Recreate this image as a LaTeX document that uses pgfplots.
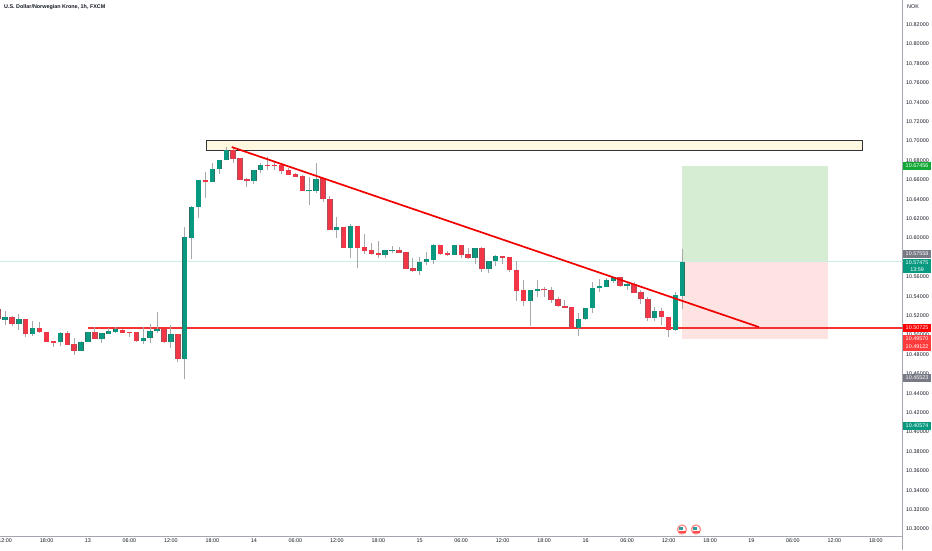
\documentclass[border=0pt]{standalone}
\usepackage{fontspec}
\setmainfont{Liberation Sans}
\usepackage{pgfplots}
\usepackage{pgfplotstable}
\pgfplotsset{compat=1.18}
\definecolor{upc}{HTML}{089981}
\definecolor{upe}{HTML}{2F6F63}
\definecolor{dnc}{HTML}{F23645}
\definecolor{dne}{HTML}{A8505A}
\definecolor{wick}{HTML}{A6A8AC}
\definecolor{axc}{HTML}{A3A6AF}
\definecolor{txt}{HTML}{131722}
\definecolor{gray1}{HTML}{787B86}
\definecolor{tagg}{HTML}{12A836}
\definecolor{tagr}{HTML}{FF3B3B}
\pgfplotstableread{
t o h l c
-12 10.5158 10.5251 10.5107 10.5175
-10 10.5113 10.5213 10.5052 10.5155
-8 10.5010 10.5148 10.4990 10.5065
-4 10.4924 10.5031 10.4890 10.5017
-1 10.4839 10.4938 10.4839 10.4924
0 10.4928 10.5028 10.4928 10.5021
2 10.4959 10.5024 10.4921 10.5010
3 10.5014 10.5076 10.5014 10.5034
4 10.5034 10.5079 10.5024 10.5052
8 10.4938 10.5086 10.4911 10.4966
9 10.4966 10.5110 10.4918 10.5038
10 10.5038 10.5234 10.5017 10.5058
12 10.4924 10.5100 10.4863 10.5003
14 10.4753 10.6117 10.4550 10.6003
15 10.6003 10.6326 10.5780 10.6319
16 10.6319 10.6598 10.6206 10.6591
18 10.6580 10.6769 10.6580 10.6708
19 10.6708 10.6800 10.6659 10.6800
20 10.6800 10.6934 10.6800 10.6900
24 10.6587 10.6697 10.6556 10.6697
25 10.6697 10.6769 10.6666 10.6752
32 10.6484 10.6625 10.6343 10.6488
33 10.6484 10.6776 10.6460 10.6604
36 10.6079 10.6213 10.6003 10.6110
38 10.5900 10.6147 10.5797 10.6113
43 10.5822 10.5870 10.5794 10.5870
44 10.5866 10.5918 10.5842 10.5870
48 10.5660 10.5801 10.5622 10.5749
49 10.5749 10.5852 10.5718 10.5777
50 10.5777 10.5935 10.5732 10.5918
53 10.5825 10.5918 10.5825 10.5918
56 10.5797 10.5901 10.5732 10.5894
58 10.5684 10.5767 10.5636 10.5760
59 10.5760 10.5825 10.5711 10.5808
64 10.5354 10.5457 10.5097 10.5457
65 10.5457 10.5567 10.5396 10.5471
71 10.5075 10.5223 10.4993 10.5161
72 10.5161 10.5275 10.5154 10.5275
73 10.5275 10.5550 10.5230 10.5481
74 10.5481 10.5577 10.5446 10.5495
75 10.5495 10.5584 10.5495 10.5560
76 10.5560 10.5601 10.5532 10.5591
78 10.5505 10.5550 10.5463 10.5515
82 10.5178 10.5292 10.5144 10.5240
85 10.5051 10.5446 10.5041 10.5402
86 10.5405 10.5883 10.5264 10.5748
}\upbars
\pgfplotstableread{
t o h l c
-13 10.5258 10.5290 10.5165 10.5165
-11 10.5175 10.5196 10.5096 10.5113
-9 10.5155 10.5155 10.4976 10.5010
-7 10.5065 10.5131 10.5017 10.5028
-6 10.5028 10.5028 10.4931 10.4931
-5 10.4935 10.4935 10.4880 10.4921
-3 10.5017 10.5038 10.4897 10.4900
-2 10.4900 10.4966 10.4797 10.4835
1 10.5021 10.5086 10.4959 10.4959
5 10.5048 10.5065 10.5017 10.5021
6 10.5028 10.5028 10.4976 10.5021
7 10.5024 10.5031 10.4931 10.4938
11 10.5058 10.5065 10.4914 10.4924
13 10.5000 10.5000 10.4725 10.4753
17 10.6594 10.6683 10.6409 10.6580
21 10.6900 10.6941 10.6769 10.6817
22 10.6814 10.6814 10.6601 10.6601
23 10.6601 10.6622 10.6529 10.6587
26 10.6752 10.6831 10.6701 10.6745
27 10.6752 10.6786 10.6701 10.6745
28 10.6745 10.6769 10.6659 10.6694
29 10.6694 10.6718 10.6646 10.6653
30 10.6653 10.6666 10.6625 10.6632
31 10.6632 10.6649 10.6484 10.6484
34 10.6608 10.6615 10.6374 10.6398
35 10.6398 10.6433 10.6079 10.6079
37 10.6110 10.6110 10.5900 10.5900
39 10.6113 10.6123 10.5694 10.5900
40 10.5904 10.6041 10.5835 10.5869
41 10.5866 10.5945 10.5825 10.5835
42 10.5835 10.5973 10.5791 10.5822
45 10.5870 10.5911 10.5842 10.5846
46 10.5849 10.5849 10.5677 10.5684
47 10.5684 10.5791 10.5646 10.5660
51 10.5918 10.5928 10.5825 10.5835
52 10.5835 10.5870 10.5818 10.5825
54 10.5918 10.5918 10.5791 10.5825
55 10.5825 10.5894 10.5787 10.5797
57 10.5894 10.5904 10.5653 10.5684
60 10.5808 10.5818 10.5732 10.5794
61 10.5797 10.5797 10.5653 10.5667
62 10.5667 10.5760 10.5354 10.5454
63 10.5454 10.5567 10.5303 10.5354
66 10.5470 10.5498 10.5388 10.5460
67 10.5460 10.5491 10.5326 10.5361
68 10.5361 10.5388 10.5292 10.5295
69 10.5295 10.5361 10.5281 10.5281
70 10.5288 10.5288 10.5075 10.5075
77 10.5591 10.5601 10.5498 10.5505
79 10.5522 10.5550 10.5429 10.5433
80 10.5436 10.5463 10.5316 10.5367
81 10.5367 10.5388 10.5144 10.5178
83 10.5240 10.5275 10.5103 10.5182
84 10.5182 10.5182 10.4983 10.5051
}\dnbars
\newcommand{\sz}{\fontsize{5.4}{6.2}\selectfont}
\newcommand{\pricetag}[4]{% py top, py bottom, colour, text
  \fill[#3] (903,550-#1) rectangle (931,550-#2);
  \node[anchor=center,align=center,text=white,inner sep=0pt,font=\sz] at (917,550-#1/2-#2/2) {#4};}
\begin{document}
\begin{tikzpicture}[x=1pt,y=1pt]
\path[use as bounding box] (0,0) rectangle (932,550);
\begin{axis}[
  at={(0pt,14pt)}, anchor=south west,
  scale only axis, width=902.5pt, height=536pt,
  xmin=-12.73, xmax=117.85, ymin=10.2928, ymax=10.8454,
  axis x line*=bottom, axis y line*=right,
  axis line style={axc,line width=0.9pt,-},
  xtick={-12,-6,...,114},
  xticklabels={12:00,18:00,13,06:00,12:00,18:00,14,06:00,12:00,18:00,15,06:00,12:00,18:00,16,06:00,12:00,18:00,19,06:00,12:00,18:00},
  ytick={10.30,10.32,10.34,10.36,10.38,10.40,10.42,10.44,10.46,10.48,10.50,10.52,10.54,10.56,10.60,10.62,10.64,10.66,10.68,10.70,10.72,10.74,10.76,10.78,10.80,10.82},
  major tick length=0pt,
  /pgf/number format/assume math mode=true,
  yticklabel style={font=\sz,text=txt,/pgf/number format/fixed,/pgf/number format/fixed zerofill,/pgf/number format/precision=5,xshift=0.2pt,anchor=west},
  xticklabel style={font=\sz,text=txt,yshift=0.5pt},
  scaled y ticks=false,
  grid=none,
]
% position box
\fill[fill={rgb,255:red,214;green,236;blue,211}] (axis cs:85.9,10.6746) rectangle (axis cs:107,10.5755);
\fill[fill={rgb,255:red,253;green,227;blue,226}] (axis cs:85.9,10.5755) rectangle (axis cs:107,10.4957);
% last price line
\addplot[forget plot,color={rgb,255:red,205;green,238;blue,230},line width=0.7pt] coordinates {(-12.73,10.5755) (117.85,10.5755)};
% supply box
\draw[fill={rgb,255:red,255;green,248;blue,225},draw={rgb,255:red,50;green,50;blue,55},line width=0.9pt] (axis cs:17.07,10.7010) rectangle (axis cs:112,10.6907);
% horizontal level
\addplot[forget plot,color={rgb,255:red,245;green,50;blue,50},line width=1.4pt] coordinates {(0,10.50725) (117.85,10.50725)};
% wicks
\addplot[forget plot,draw=none,mark=none,error bars/.cd,y dir=both,y explicit,error mark=none,error bar style={wick,line width=0.9pt}] table[x=t,y=o,y error plus expr=\thisrow{h}-\thisrow{o},y error minus expr=\thisrow{o}-\thisrow{l}] {\upbars};
\addplot[forget plot,draw=none,mark=none,error bars/.cd,y dir=both,y explicit,error mark=none,error bar style={wick,line width=0.9pt}] table[x=t,y=o,y error plus expr=\thisrow{h}-\thisrow{o},y error minus expr=\thisrow{o}-\thisrow{l}] {\dnbars};
% bodies
\addplot[forget plot,draw=none,mark=none,error bars/.cd,y dir=plus,y explicit,error mark=none,error bar style={upe,line width=5.4pt}] table[x=t,y=o,y error plus expr=\thisrow{c}-\thisrow{o}+0.0006] {\upbars};
\addplot[forget plot,draw=none,mark=none,error bars/.cd,y dir=plus,y explicit,error mark=none,error bar style={upc,line width=4.2pt}] table[x=t,y=o,y error plus expr=\thisrow{c}-\thisrow{o}+0.0006] {\upbars};
\addplot[forget plot,draw=none,mark=none,error bars/.cd,y dir=plus,y explicit,error mark=none,error bar style={dne,line width=5.4pt}] table[x=t,y=c,y error plus expr=\thisrow{o}-\thisrow{c}+0.0006] {\dnbars};
\addplot[forget plot,draw=none,mark=none,error bars/.cd,y dir=plus,y explicit,error mark=none,error bar style={dnc,line width=4.2pt}] table[x=t,y=c,y error plus expr=\thisrow{o}-\thisrow{c}+0.0006] {\dnbars};
% trend line
\addplot[forget plot,color=red!95!black,line width=1.7pt] coordinates {(20.8,10.6938) (97.08,10.5082)};
\end{axis}
% axis extension
\draw[axc,line width=0.9pt] (902.5,14) -- (902.5,0);
% titles
\node[anchor=west,inner sep=0pt,text=txt,font=\fontsize{5.4}{6}\selectfont\bfseries] at (4,543) {U.S. Dollar/Norwegian Krone, 1h, FXCM};
\node[anchor=west,inner sep=0pt,text=txt,font=\sz] at (907,543) {NOK};
% price tags
\pricetag{162}{170}{tagg}{10.67456}
\pricetag{250}{258}{gray1}{10.57558}
\fill[upc] (903,550-259) rectangle (931,550-273);
\node[text=white,inner sep=0pt,font=\sz] at (917,550-262.8) {10.57475};
\node[text=white,inner sep=0pt,font=\sz] at (917,550-269.5) {13:59};
\pricetag{324}{332}{red}{10.50725}
\fill[tagr] (903,550-335) rectangle (931,550-351);
\node[text=white,inner sep=0pt,font=\sz] at (917,550-339) {10.49570};
\node[text=white,inner sep=0pt,font=\sz] at (917,550-347) {10.49122};
\pricetag{374}{382}{gray1}{10.45523}
\pricetag{422}{430}{upc}{10.40574}
% event flags
\foreach \fx in {682,696}{
  \fill[red!45!white] (\fx,550-529.5) circle (5.2);
  \fill[white] (\fx,550-529.5) circle (3.7);
  \fill[red!70!white] (\fx-3.5,550-531) rectangle (\fx+3.5,550-532.5);
  \fill[teal!80!white] (\fx-3.2,550-529.5) rectangle (\fx+0.6,550-526.5);
}
\end{tikzpicture}
\end{document}
